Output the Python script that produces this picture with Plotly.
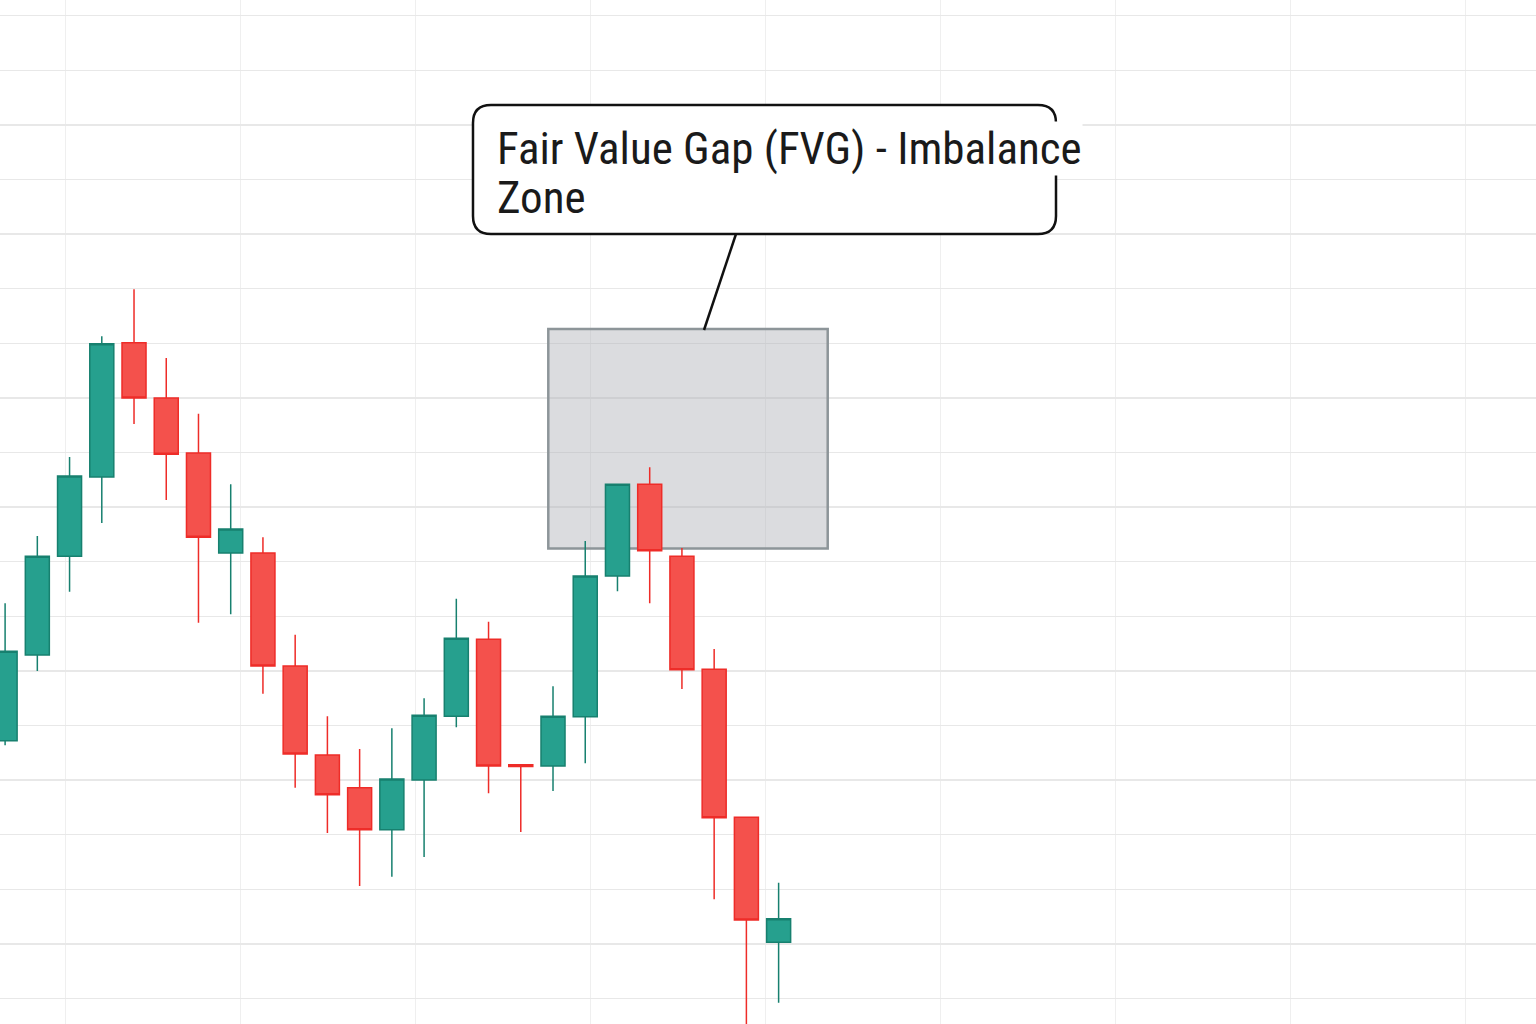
import plotly.graph_objects as go

# ---- data (price units) ----
bar_index = list(range(25))
open_ = [2047.2, 2062.9, 2081.0, 2095.5, 2120.1, 2110.0, 2099.9, 2081.6, 2081.6, 2060.9,
         2044.6, 2038.6, 2030.9, 2040.0, 2051.7, 2065.8, 2042.8, 2042.6, 2051.6, 2077.4,
         2094.2, 2081.0, 2060.3, 2033.2, 2010.3]
high = [2072.4, 2084.7, 2099.2, 2121.3, 2129.9, 2117.3, 2107.1, 2094.2, 2084.5, 2066.6,
        2051.7, 2045.7, 2049.5, 2055.0, 2073.2, 2069.0, 2042.8, 2057.2, 2083.8, 2094.2,
        2097.3, 2082.5, 2064.0, 2033.2, 2021.2]
low = [2046.4, 2060.0, 2074.5, 2087.1, 2105.2, 2091.3, 2068.8, 2070.4, 2055.8, 2038.6,
       2030.3, 2020.6, 2022.3, 2025.9, 2049.7, 2037.6, 2030.5, 2038.0, 2043.1, 2074.6,
       2072.4, 2056.7, 2018.2, 1994.2, 1999.2]
close = [2063.6, 2081.0, 2095.7, 2119.9, 2110.0, 2099.7, 2084.5, 2086.0, 2060.9, 2044.8,
         2037.3, 2030.9, 2040.2, 2051.9, 2066.0, 2042.6, 2042.5, 2051.7, 2077.4, 2094.2,
         2082.0, 2060.2, 2033.1, 2014.4, 2014.6]

# Fair value gap zone (bar index / price)
fvg_start, fvg_end = 16.854, 25.523
fvg_bottom, fvg_top = 2082.4, 2122.6

label_line1 = "Fair Value Gap (FVG) - Imbalance"
label_line2 = "Zone"

W, H = 1536, 1024


def px(x, y):
    return x / W, 1 - y / H


def rounded_rect(x0, y0, x1, y1, r):
    def p(x, y):
        a, b = px(x, y)
        return f"{a:.5f},{b:.5f}"
    d = (f"M {p(x0 + r, y0)} L {p(x1 - r, y0)} Q {p(x1, y0)} {p(x1, y0 + r)} "
         f"L {p(x1, y1 - r)} Q {p(x1, y1)} {p(x1 - r, y1)} "
         f"L {p(x0 + r, y1)} Q {p(x0, y1)} {p(x0, y1 - r)} "
         f"L {p(x0, y0 + r)} Q {p(x0, y0)} {p(x0 + r, y0)} Z")
    return d


fig = go.Figure()
fig.add_trace(go.Candlestick(
    x=bar_index, open=open_, high=high, low=low, close=close,
    increasing=dict(line=dict(color="#17806f", width=1.5), fillcolor="#26a08e"),
    decreasing=dict(line=dict(color="#ee2c28", width=1.5), fillcolor="#f4514c"),
    whiskerwidth=0, showlegend=False, hoverinfo="skip",
))

# FVG zone
fig.add_shape(type="rect", xref="x", yref="y", x0=fvg_start, x1=fvg_end,
              y0=fvg_bottom, y1=fvg_top, layer="between",
              fillcolor="rgba(175,178,185,0.45)",
              line=dict(color="#8d9599", width=2.5))

# callout box
fig.add_shape(type="path", xref="paper", yref="paper",
              path=rounded_rect(473, 105, 1056, 234, 18),
              fillcolor="white", line=dict(color="#111111", width=2.5), layer="above")
cx0, cy0 = px(736, 234)
cx1, cy1 = px(704, 330)
fig.add_shape(type="line", xref="paper", yref="paper", x0=cx0, y0=cy0, x1=cx1, y1=cy1,
              line=dict(color="#111111", width=2.5), layer="above")

font = dict(family="Liberation Sans Narrow, Roboto Condensed, Roboto, Arial", size=45, color="#1a1a1a")
ax, ay = px(496, 121)
fig.add_annotation(xref="paper", yref="paper", x=ax, y=ay, xanchor="left", yanchor="top",
                   text=label_line1, showarrow=False, font=font, bgcolor="white", borderpad=0)
ax2, ay2 = px(496, 170)
fig.add_annotation(xref="paper", yref="paper", x=ax2, y=ay2, xanchor="left", yanchor="top",
                   text=label_line2, showarrow=False, font=font, borderpad=0)

step = 32.23
x0px = 5.1
fig.update_xaxes(range=[-x0px / step, (W - x0px) / step], showticklabels=False, ticks="",
                 showline=False, zeroline=False, showgrid=True, gridcolor="#efefef", gridwidth=1,
                 tick0=1.877, dtick=5.431, rangeslider=dict(visible=False), fixedrange=True)
fig.update_yaxes(range=[1995.33, 2182.88], showticklabels=False, ticks="", showline=False,
                 zeroline=False, showgrid=True, gridcolor="#e8e8e8", gridwidth=1.5,
                 tick0=2000, dtick=10, fixedrange=True)
fig.update_layout(width=W, height=H, margin=dict(l=0, r=0, t=0, b=0),
                  paper_bgcolor="white", plot_bgcolor="white", boxgap=0.255, boxgroupgap=0,
                  showlegend=False, hovermode=False)

fig.write_html("out.html", config={"displayModeBar": False, "staticPlot": True},
               post_script="document.body.style.margin='0';")
